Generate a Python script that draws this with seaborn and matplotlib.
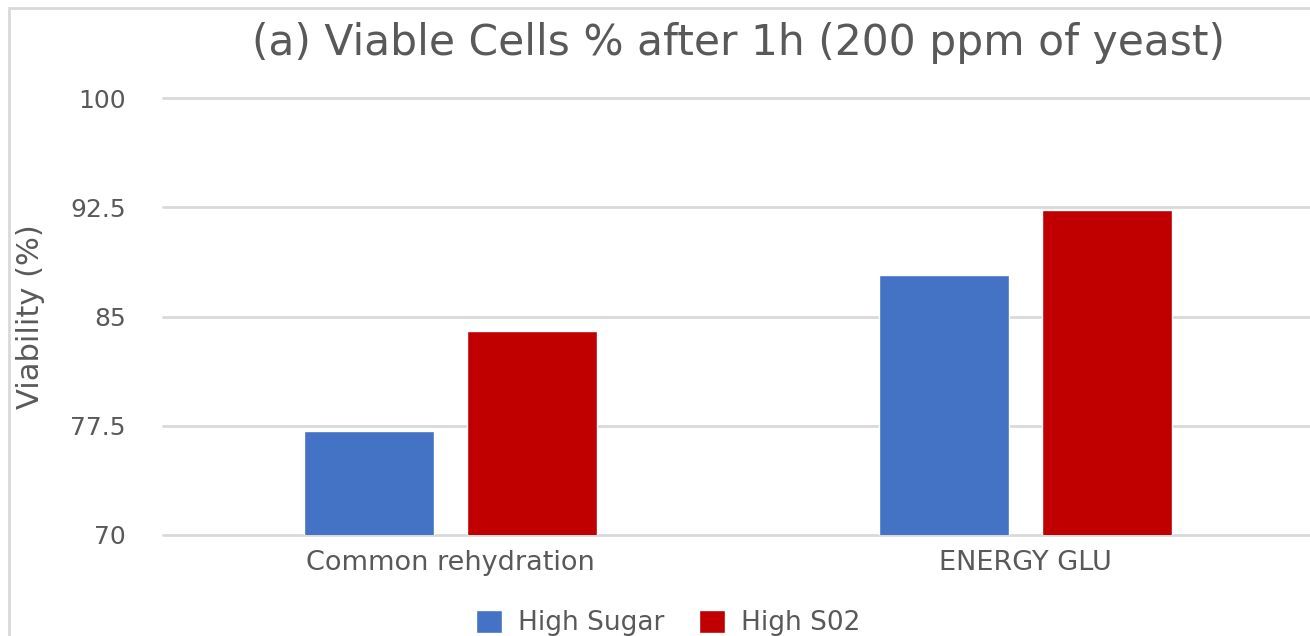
import matplotlib
matplotlib.use("Agg")
import matplotlib.pyplot as plt
import seaborn as sns
import pandas as pd
from matplotlib.patches import Rectangle

categories = ["Common rehydration", "ENERGY GLU"]
series_names = ["High Sugar", "High S02"]
high_sugar = [77.15, 87.85]
high_so2 = [84.0, 92.35]
yticks = [70, 77.5, 85, 92.5, 100]
ytick_labels = ["70", "77.5", "85", "92.5", "100"]

colors = ["#4472C4", "#C00000"]
text_color = "#595959"
grid_color = "#D9D9D9"

df = pd.DataFrame({
    "category": categories * 2,
    "series": [series_names[0]] * 2 + [series_names[1]] * 2,
    "value": high_sugar + high_so2,
})

sns.set_theme(style="white")
plt.rcParams["font.family"] = ["DejaVu Sans"]

fig = plt.figure(figsize=(13.10, 6.36), dpi=100)
ax = fig.add_axes([163 / 1310, 101 / 636, 1150 / 1310, 436.7 / 636])

sns.barplot(data=df, x="category", y="value", hue="series",
            palette=colors, width=0.57, gap=0.207, ax=ax,
            saturation=1, legend=True)

ax.set_ylim(70, 100)
ax.set_xlim(-0.5, 1.5)
ax.set_yticks(yticks)
ax.set_yticklabels(ytick_labels)
ax.grid(axis="y", color=grid_color, linewidth=2.0)
for gl in ax.get_ygridlines():
    gl.set_clip_on(False)
ax.set_axisbelow(True)
for s in ax.spines.values():
    s.set_visible(False)
ax.tick_params(axis="both", length=0, colors=text_color)
ax.tick_params(axis="y", pad=27, labelsize=18)
ax.tick_params(axis="x", pad=11, labelsize=19.5)
for lab in ax.get_yticklabels():
    lab.set_horizontalalignment("right")
ax.set_xlabel("")
ax.set_ylabel("Viability (%)", color=text_color, fontsize=22)
ax.yaxis.set_label_coords(-118 / 1150, 0.5)
ax.set_title("(a) Viable Cells % after 1h (200 ppm of yeast)",
             color=text_color, fontsize=30.5, pad=31)

handles, labels = ax.get_legend_handles_labels()
ax.get_legend().remove()
fig.legend(handles, labels, loc="center", bbox_to_anchor=(668 / 1310, 13 / 636),
           ncol=2, frameon=False, fontsize=19, labelcolor=text_color,
           handlelength=1.0, handleheight=1.0, columnspacing=1.3, handletextpad=0.6)

fig.patches.append(Rectangle((9 / 1310, -0.1), 1.2, 1.1 - 8 / 636,
                             transform=fig.transFigure, fill=False,
                             edgecolor=grid_color, linewidth=2.0, zorder=0))

fig.savefig("out.png", dpi=100)
